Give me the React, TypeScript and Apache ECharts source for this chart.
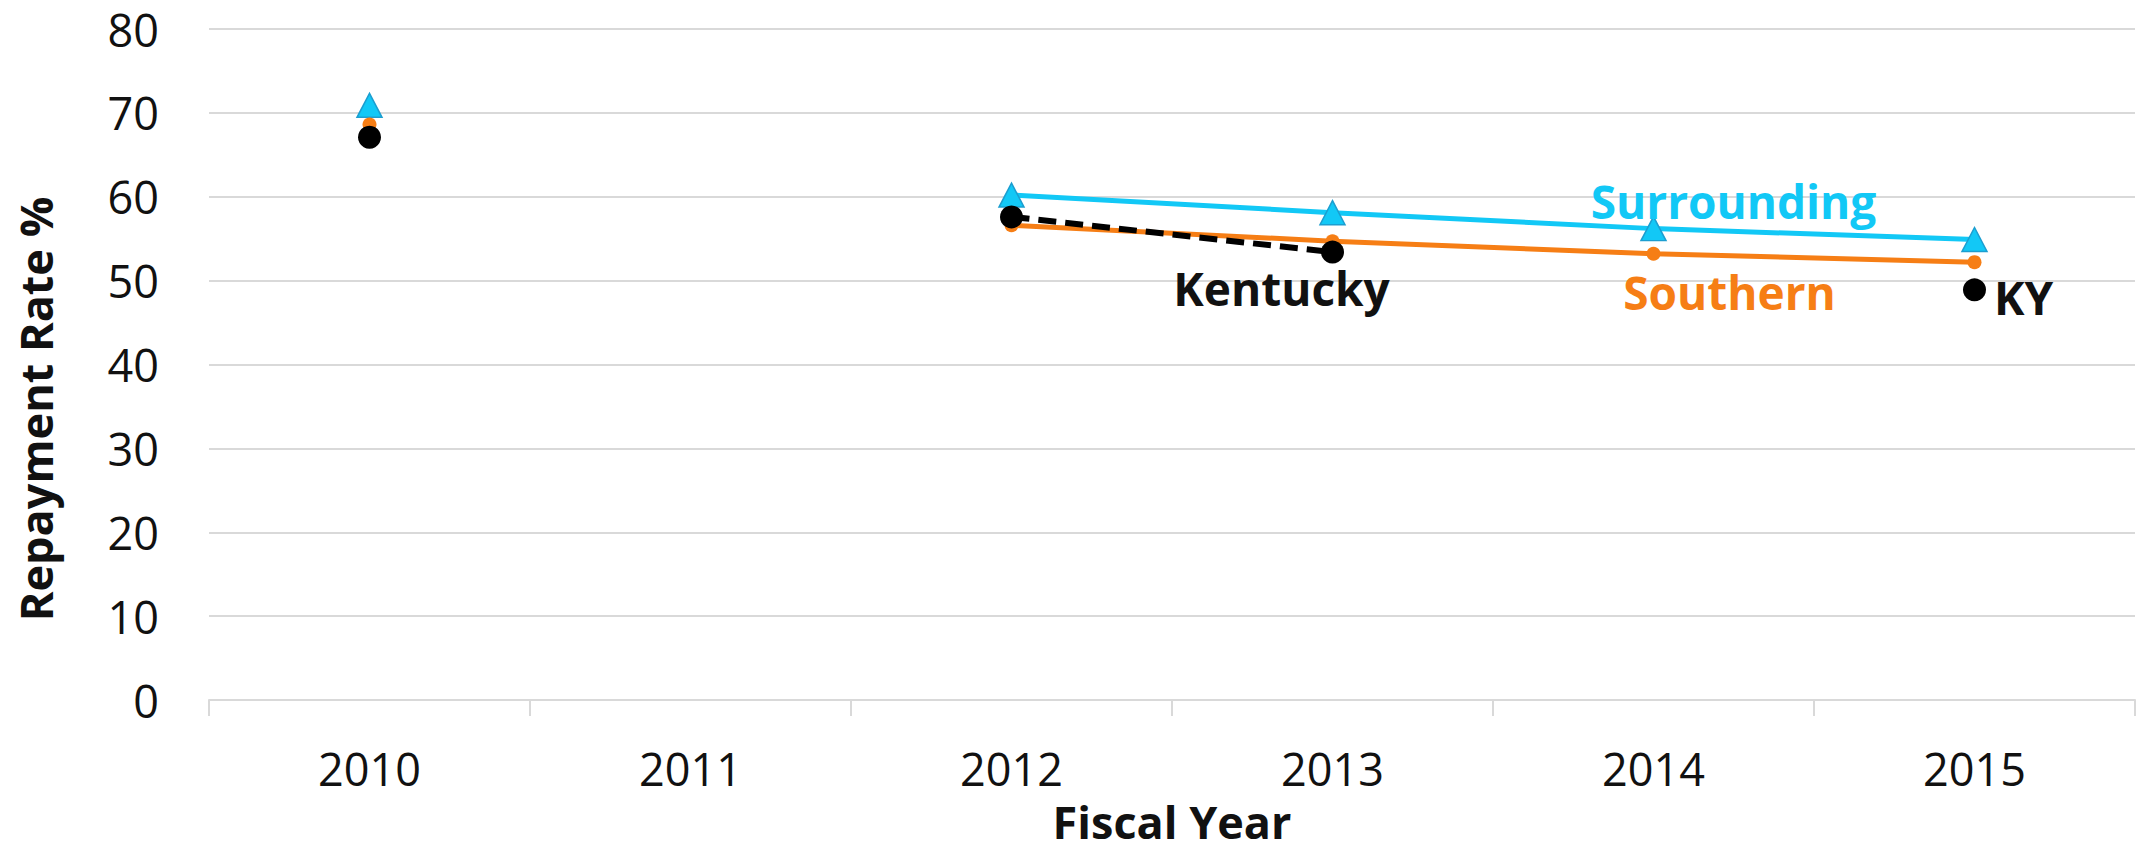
import React, { useEffect, useRef } from "react";
import * as echarts from "echarts";

const years = ["2010", "2011", "2012", "2013", "2014", "2015"];
const surrounding: (number | null)[] = [70.9, null, 60.2, 58.1, 56.2, 54.9];
const southern: (number | null)[] = [68.6, null, 56.6, 54.7, 53.2, 52.2];
const kentucky: (number | null)[] = [67.1, null, 57.6, 53.4, null, 48.9];
const yTicks = { min: 0, max: 80, interval: 10 };

const FONT = "'Open Sans', 'Noto Sans', sans-serif";
const CYAN = "#12C8F6";
const ORANGE = "#F67E15";
const BLACK = "#000000";
const GRID = "#D9D9D9";

function withLabels(
  values: (number | null)[],
  labels: Record<number, any>
) {
  return values.map((v, i) =>
    labels[i] ? { value: v, label: labels[i] } : v
  );
}

export default function App() {
  const ref = useRef<HTMLDivElement>(null);
  useEffect(() => {
    if (!ref.current) return;
    const chart = echarts.init(ref.current, null, { renderer: "svg" });
    const labelBase = {
      show: true,
      position: "inside",
      fontFamily: FONT,
      fontWeight: "bold",
      fontSize: 46,
    };
    chart.setOption({
      animation: false,
      backgroundColor: "#ffffff",
      grid: { left: 209, right: 4, top: 29, bottom: 156, containLabel: false },
      xAxis: {
        type: "category",
        data: years,
        boundaryGap: true,
        axisLine: { show: true, lineStyle: { color: GRID, width: 2 } },
        axisTick: { show: true, length: 16, lineStyle: { color: GRID, width: 2 } },
        axisLabel: {
          color: "#111111",
          fontFamily: FONT,
          fontSize: 45,
          margin: 46,
        },
        name: "Fiscal Year",
        nameLocation: "middle",
        nameGap: 99,
        nameTextStyle: {
          color: "#111111",
          fontFamily: FONT,
          fontWeight: "bold",
          fontSize: 45,
          lineHeight: 45,
        },
      },
      yAxis: {
        type: "value",
        min: yTicks.min,
        max: yTicks.max,
        interval: yTicks.interval,
        axisLine: { show: false },
        axisTick: { show: false },
        splitLine: { show: true, lineStyle: { color: GRID, width: 2 } },
        axisLabel: {
          color: "#111111",
          fontFamily: FONT,
          fontSize: 45,
          margin: 50,
        },
      },
      graphic: [
        {
          type: "text",
          x: 35,
          y: 409,
          rotation: Math.PI / 2,
          style: {
            text: "Repayment Rate %",
            fill: "#111111",
            font: `bold 45px ${FONT}`,
            textAlign: "center",
            textVerticalAlign: "middle",
          },
        },
      ],
      series: [
        {
          name: "Surrounding",
          type: "line",
          data: withLabels(surrounding, {
            4: { ...labelBase, formatter: "Surrounding", color: CYAN, offset: [80, -28] },
          }),
          connectNulls: false,
          symbol: "triangle",
          symbolSize: [25, 24],
          showAllSymbol: true,
          lineStyle: { color: CYAN, width: 5 },
          itemStyle: { color: CYAN, borderColor: "#1C9ED0", borderWidth: 1.5 },
          z: 2,
        },
        {
          name: "Southern",
          type: "line",
          data: withLabels(southern, {
            4: { ...labelBase, formatter: "Southern", color: ORANGE, offset: [76, 38] },
          }),
          connectNulls: false,
          symbol: "circle",
          symbolSize: 14,
          showAllSymbol: true,
          lineStyle: { color: ORANGE, width: 5 },
          itemStyle: { color: ORANGE, borderWidth: 0 },
          z: 3,
        },
        {
          name: "Kentucky",
          type: "line",
          data: withLabels(kentucky, {
            3: { ...labelBase, formatter: "Kentucky", color: "#111111", offset: [-51, 36] },
            5: { ...labelBase, formatter: "KY", color: "#111111", offset: [49, 7] },
          }),
          connectNulls: false,
          symbol: "circle",
          symbolSize: 23,
          showAllSymbol: true,
          lineStyle: { color: BLACK, width: 6, type: [18, 9] },
          itemStyle: { color: BLACK, borderWidth: 0 },
          z: 4,
        },
      ],
    });
    return () => chart.dispose();
  }, []);
  return (
    <div
      ref={ref}
      style={{ position: "fixed", left: 0, top: 0, width: 2139, height: 856, background: "#fff" }}
    />
  );
}
